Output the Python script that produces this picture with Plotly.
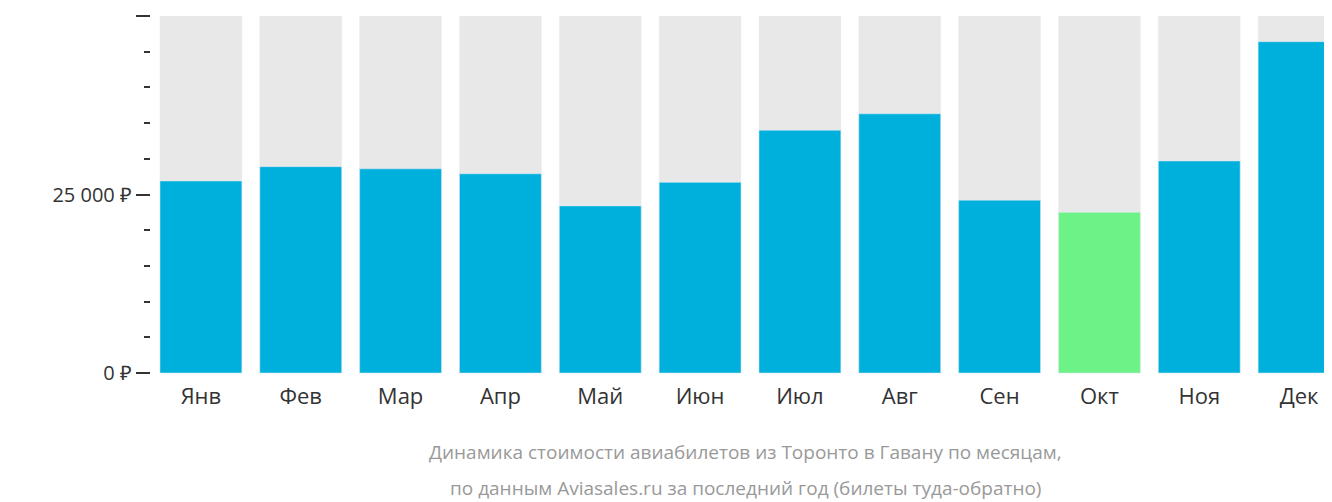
import plotly.graph_objects as go

months = ["Янв","Фев","Мар","Апр","Май","Июн","Июл","Авг","Сен","Окт","Ноя","Дек"]
prices = [26900, 28900, 28600, 27900, 23400, 26700, 34000, 36300, 24200, 22500, 29700, 46400]
bg_level = 51200
colors = ["#00b0dc"]*9 + ["#6cf287"] + ["#00b0dc"]*2

fig = go.Figure()
fig.add_bar(x=months, y=[bg_level]*12, marker_color="#e8e8e8", hoverinfo="skip", cliponaxis=False)
fig.add_bar(x=months, y=prices, marker_color=colors)
fig.update_layout(
    width=1332, height=502, barmode="overlay", bargap=0.18, showlegend=False,
    plot_bgcolor="white", paper_bgcolor="white",
    margin=dict(l=143, r=0, t=8, b=129, autoexpand=False),
    font=dict(family="Open Sans", color="#333"),
    xaxis=dict(range=[-0.5, 11.41], tickfont=dict(size=22), showline=False, ticks="", fixedrange=True, automargin=False),
    yaxis=dict(range=[-1120, 50000], tickvals=[0, 25000, 50000], automargin=False,
               ticktext=["0 ₽", "25 000 ₽", "50 000 ₽"], tickfont=dict(size=20),
               ticks="outside", ticklen=14, tickcolor="#333", tickwidth=2,
               showgrid=False, zeroline=False,
               minor=dict(dtick=5000, tick0=0, ticks="outside", ticklen=6, tickcolor="#333", tickwidth=2)),
)
for txt, yy in [("Динамика стоимости авиабилетов из Торонто в Гавану по месяцам,", -0.1945),
                ("по данным Aviasales.ru за последний год (билеты туда-обратно)", -0.293)]:
    fig.add_annotation(text=txt, xref="paper", yref="paper", x=0.5, y=yy, yanchor="middle",
                       showarrow=False, font=dict(size=19, color="#999"))
fig.write_html("out.html")
